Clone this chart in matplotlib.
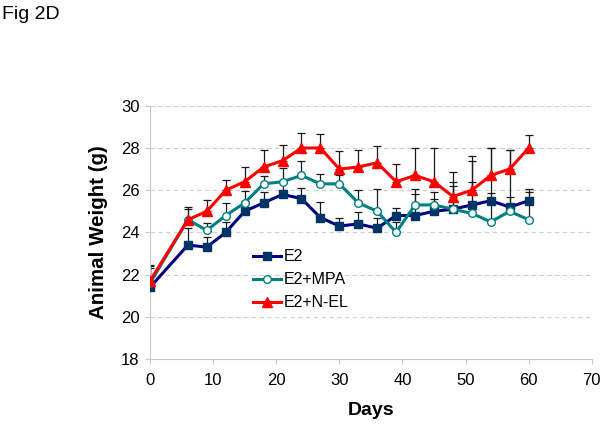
import numpy as np
import matplotlib
matplotlib.use('Agg')
import matplotlib.pyplot as plt

plt.rcParams['font.family'] = ['Liberation Sans', 'DejaVu Sans']

# data
days = [0, 6, 9, 12, 15, 18, 21, 24, 27, 30, 33, 36, 39, 42, 45, 48, 51, 54, 57, 60]

e2 = [21.4, 23.4, 23.3, 24.0, 25.0, 25.4, 25.8, 25.6, 24.7, 24.3,
      24.4, 24.2, 24.8, 24.8, 25.0, 25.1, 25.3, 25.5, 25.2, 25.5]
e2_err = [0.9, 0.8, 0.5, 0.5, 0.5, 0.5, 0.6, 0.5, 0.75, 0.4,
          0.55, 0.5, 0.35, 1.0, 0.6, 1.1, 1.1, 0.35, 0.5, 0.55]

mpa = [21.6, 24.6, 24.1, 24.8, 25.4, 26.3, 26.4, 26.7, 26.3, 26.3,
       25.4, 25.0, 24.0, 25.3, 25.3, 25.1, 24.9, 24.5, 25.0, 24.6]
mpa_err = [0.85, 0.5, 0.35, 0.6, 0.55, 0.35, 0.65, 0.7, 0.45, 0.4,
           0.6, 1.05, 0.5, 0.75, 0.6, 1.3, 2.5, 3.5, 2.9, 1.3]

nel = [21.7, 24.6, 25.0, 26.0, 26.4, 27.1, 27.4, 28.0, 28.0, 27.0,
       27.1, 27.3, 26.4, 26.7, 26.4, 25.7, 26.0, 26.7, 27.0, 28.0]
nel_err = [0.7, 0.6, 0.55, 0.5, 0.7, 0.8, 0.75, 0.7, 0.65, 0.85,
           0.8, 0.8, 0.85, 1.3, 1.6, 1.15, 1.6, 1.3, 0.9, 0.6]

fig = plt.figure(figsize=(6.03, 4.25), dpi=100)
ax = fig.add_axes([0.2488, 0.1553, 0.7325, 0.5958])

for vals, errs in [(e2, e2_err), (mpa, mpa_err), (nel, nel_err)]:
    ax.errorbar(days, vals, yerr=[np.zeros(len(errs)), errs], fmt='none',
                ecolor='#1a1a1a', elinewidth=0.9, capsize=3, capthick=0.9, zorder=2)

ax.plot(days, e2, color='#000080', lw=2.2, marker='s', ms=5.5,
        mfc='#003366', mec='#003366', label='E2', zorder=3)
ax.plot(days, mpa, color='#008080', lw=2.2, marker='o', ms=5.5,
        mfc='white', mec='#008080', mew=1, label='E2+MPA', zorder=3)
ax.plot(days, nel, color='#ff0000', lw=2.2, marker='^', ms=7,
        mfc='#ff0000', mec='#ff0000', label='E2+N-EL', zorder=4)

ax.set_xlim(0, 70)
ax.set_ylim(18, 30)
ax.set_xticks(range(0, 71, 10))
ax.set_yticks(range(18, 31, 2))
for y in range(20, 31, 2):
    ax.axhline(y, color='#d0d0d0', lw=0.8, ls=(0, (4, 3)), zorder=1)

for s in ['top', 'right']:
    ax.spines[s].set_visible(False)
for s in ['left', 'bottom']:
    ax.spines[s].set_color('#c8c8c8')
    ax.spines[s].set_linewidth(0.8)
ax.tick_params(colors='#c8c8c8', labelcolor='black', labelsize=12, length=3.5, width=0.8)
ax.tick_params(axis='x', pad=6.5)
ax.tick_params(axis='y', pad=4)

ax.set_xlabel('Days', fontsize=14, fontweight='bold', labelpad=10)
ax.set_ylabel('Animal Weight (g)', fontsize=14.8, fontweight='bold', labelpad=9)

ax.legend(loc='upper left', bbox_to_anchor=(0.2, 0.49), frameon=False,
          fontsize=11.5, handlelength=1.75, labelspacing=0.5, handletextpad=0.2)

fig.text(0.003, 0.985, 'Fig 2D', fontsize=14, va='top', ha='left')

fig.savefig('out.png', dpi=100)
